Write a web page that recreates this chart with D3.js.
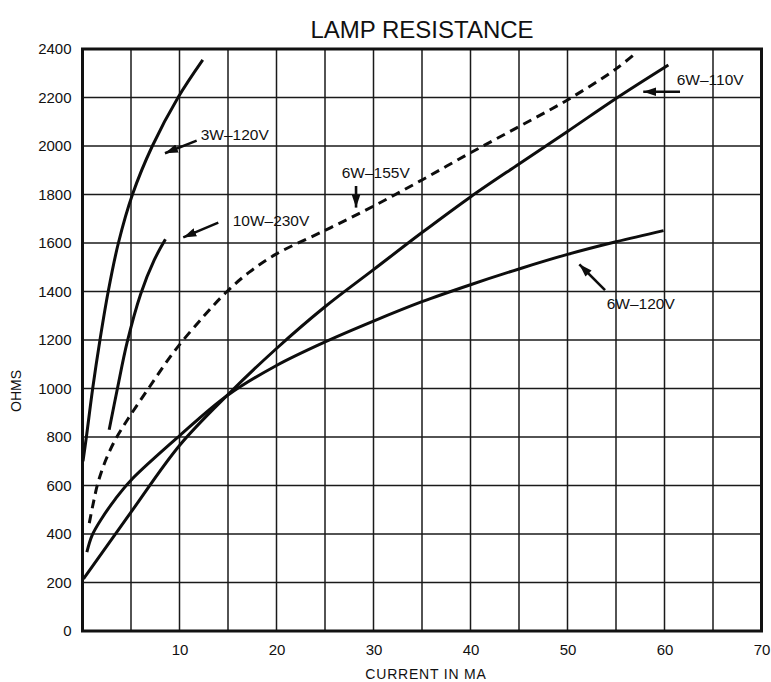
<!DOCTYPE html>
<html>
<head>
<meta charset="utf-8">
<script src="https://cdn.jsdelivr.net/npm/d3@7"></script>
<style>
  html, body { margin: 0; padding: 0; background: #fff; }
  svg { display: block; font-family: "Liberation Sans", Arial, Helvetica, sans-serif; }
</style>
</head>
<body>
<div id="chart"></div>
<script>
// Lamp resistance (ohms) against current (mA) for several lamp types
const xTicks = [10, 20, 30, 40, 50, 60, 70];
const yTicks = [0, 200, 400, 600, 800, 1000, 1200, 1400, 1600, 1800, 2000, 2200, 2400];

const lamp3w120Current = [0.05, 0.4, 1.05, 1.8, 2.65, 3.7, 5.15, 7.2, 9.85, 12.4];
const lamp3w120Ohms    = [700, 800, 1000, 1200, 1400, 1600, 1800, 2000, 2200, 2355];

const lamp10w230Current = [2.75, 3.6, 4.6, 6.0, 7.4, 8.55];
const lamp10w230Ohms    = [830, 1000, 1190, 1390, 1530, 1615];

const lamp6w155Current = [0.7, 1.1, 1.6, 2.4, 3.4, 4.7, 6.8, 9.4, 12.5, 14.9, 17.2, 20, 25, 30, 35, 40, 45, 50, 55, 57.1];
const lamp6w155Ohms    = [445, 525, 612, 705, 790, 875, 1000, 1150, 1298, 1400, 1480, 1555, 1652, 1752, 1860, 1972, 2080, 2190, 2318, 2385];

const lamp6w110Current = [0.1, 5, 10, 15, 20, 25, 30, 35, 40, 45, 50, 55, 60.4];
const lamp6w110Ohms    = [215, 490, 765, 975, 1165, 1337, 1490, 1643, 1790, 1926, 2060, 2196, 2334];

const lamp6w120Current = [0.45, 1.0, 2.0, 3.4, 5, 10, 15, 20, 25, 30, 35, 40, 45, 50, 55, 59.9];
const lamp6w120Ohms    = [325, 395, 465, 545, 622, 805, 973, 1095, 1192, 1278, 1358, 1428, 1493, 1553, 1605, 1651];

const seriesNames  = ["3W–120V", "10W–230V", "6W–155V", "6W–110V", "6W–120V"];
const seriesDashed = [false, false, true, false, false];

// callout labels and their arrows, in chart units (mA, ohms)
const labelText = ["3W–120V", "10W–230V", "6W–155V", "6W–120V", "6W–110V"];
const labelAt   = [[12.19, 2025], [15.48, 1670], [26.72, 1867], [54.04, 1328], [61.26, 2252]];
const arrowFrom = [[11.77, 2022], [14.0, 1684], [28.2, 1835], [53.87, 1406], [61.6, 2224]];
const arrowTo   = [[8.5, 1970], [10.39, 1623], [28.2, 1746], [51.22, 1512], [57.81, 2224]];

const W = 771, H = 682;
const margin = { left: 82.5, top: 49, right: 9.5, bottom: 51 };
const iw = W - margin.left - margin.right;
const ih = H - margin.top - margin.bottom;

const svg = d3.select("#chart").append("svg").attr("width", W).attr("height", H);
const g = svg.append("g").attr("transform", `translate(${margin.left},${margin.top})`);

const x = d3.scaleLinear().domain([0, 70]).range([0, iw]);
const y = d3.scaleLinear().domain([0, 2400]).range([ih, 0]);

// grid every 5 mA and every 200 ohms
const gridX = d3.range(5, 70, 5);
g.append("g").selectAll("line").data(gridX).join("line")
  .attr("x1", d => x(d)).attr("x2", d => x(d))
  .attr("y1", 0).attr("y2", ih)
  .attr("stroke", "#1a1a1a").attr("stroke-width", 1.5);
g.append("g").selectAll("line").data(yTicks.slice(1, -1)).join("line")
  .attr("x1", 0).attr("x2", iw)
  .attr("y1", d => y(d)).attr("y2", d => y(d))
  .attr("stroke", "#1a1a1a").attr("stroke-width", 1.5);

// frame
g.append("rect").attr("x", 0).attr("y", 0).attr("width", iw).attr("height", ih)
  .attr("fill", "none").attr("stroke", "#111").attr("stroke-width", 3);

// axes (labels only; the frame and grid carry the lines)
const yAxis = g.append("g")
  .call(d3.axisLeft(y).tickValues(yTicks).tickFormat(d3.format("d")).tickSize(0).tickPadding(11));
yAxis.select(".domain").remove();
yAxis.selectAll("text").attr("font-size", 15).attr("fill", "#111")
  .attr("font-family", "Liberation Sans, Arial, sans-serif");

const xAxis = g.append("g").attr("transform", `translate(0,${ih})`)
  .call(d3.axisBottom(x).tickValues(xTicks).tickFormat(d3.format("d")).tickSize(0).tickPadding(13));
xAxis.select(".domain").remove();
xAxis.selectAll("text").attr("font-size", 15).attr("fill", "#111")
  .attr("font-family", "Liberation Sans, Arial, sans-serif");

// curves
const currents = [lamp3w120Current, lamp10w230Current, lamp6w155Current, lamp6w110Current, lamp6w120Current];
const ohms = [lamp3w120Ohms, lamp10w230Ohms, lamp6w155Ohms, lamp6w110Ohms, lamp6w120Ohms];
const series = seriesNames.map((name, i) => ({
  name,
  dashed: seriesDashed[i],
  points: currents[i].map((c, j) => [c, ohms[i][j]])
}));

const line = d3.line().x(d => x(d[0])).y(d => y(d[1])).curve(d3.curveCatmullRom.alpha(0.5));
g.append("g").selectAll("path").data(series).join("path")
  .attr("d", d => line(d.points))
  .attr("fill", "none").attr("stroke", "#0d0d0d")
  .attr("stroke-width", 3)
  .attr("stroke-linecap", "butt")
  .attr("stroke-dasharray", d => d.dashed ? "9,6" : null);

// arrowhead
svg.append("defs").append("marker")
  .attr("id", "arrowhead").attr("viewBox", "0 0 12 8")
  .attr("refX", 12).attr("refY", 4)
  .attr("markerUnits", "userSpaceOnUse")
  .attr("markerWidth", 13).attr("markerHeight", 9)
  .attr("orient", "auto")
  .append("path").attr("d", "M0,0 L12,4 L0,8 Z").attr("fill", "#0d0d0d");

const notes = labelText.map((t, i) => ({ t, at: labelAt[i], from: arrowFrom[i], to: arrowTo[i] }));
g.append("g").selectAll("line").data(notes).join("line")
  .attr("x1", d => x(d.from[0])).attr("y1", d => y(d.from[1]))
  .attr("x2", d => x(d.to[0])).attr("y2", d => y(d.to[1]))
  .attr("stroke", "#0d0d0d").attr("stroke-width", 2.6)
  .attr("marker-end", "url(#arrowhead)");

g.append("g").selectAll("text").data(notes).join("text")
  .attr("x", d => x(d.at[0])).attr("y", d => y(d.at[1]))
  .attr("font-size", 15.5).attr("fill", "#111")
  .text(d => d.t);

// titles
svg.append("text").attr("x", margin.left + iw / 2).attr("y", 38)
  .attr("text-anchor", "middle").attr("font-size", 24).attr("fill", "#111")
  .text("LAMP RESISTANCE");

svg.append("text").attr("x", margin.left + iw / 2 + 4).attr("y", 679)
  .attr("text-anchor", "middle").attr("font-size", 14).attr("fill", "#111")
  .attr("letter-spacing", 0.8)
  .text("CURRENT IN MA");

svg.append("text")
  .attr("transform", `translate(21,${391}) rotate(-90)`)
  .attr("text-anchor", "middle").attr("font-size", 14).attr("fill", "#111")
  .text("OHMS");
</script>
</body>
</html>
